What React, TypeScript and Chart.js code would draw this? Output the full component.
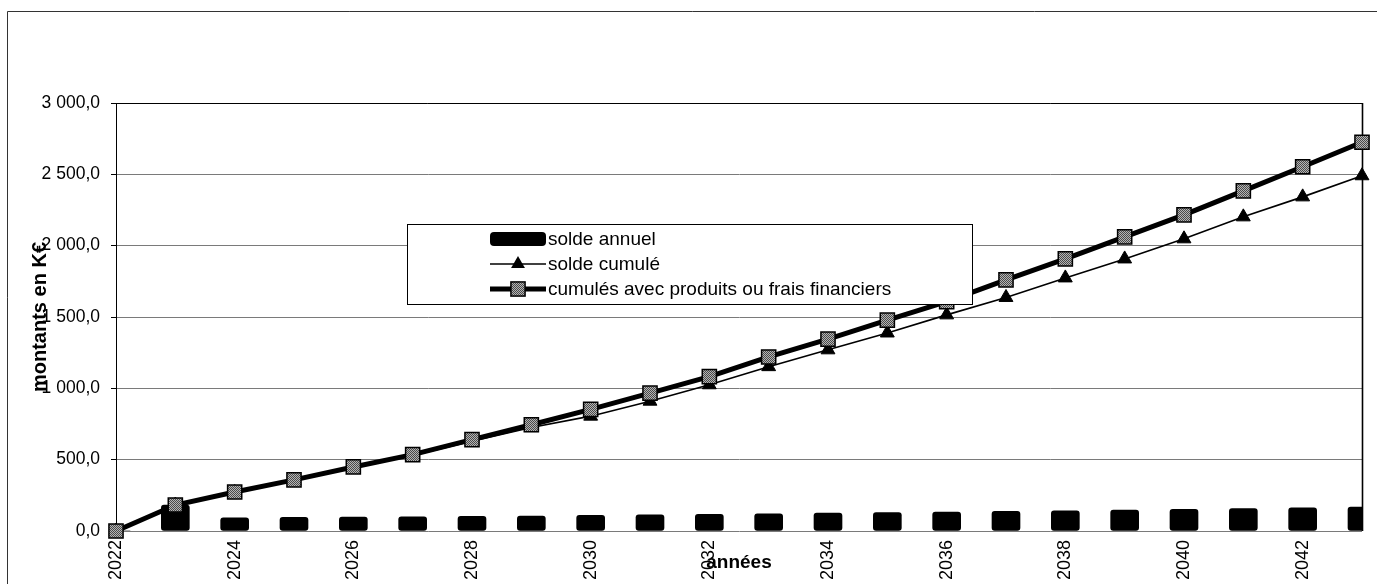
import React, { useEffect, useRef } from 'react';
import { Chart, registerables } from 'chart.js';

Chart.register(...registerables);

// ---- data ----
const years = [
  '2022', '2023', '2024', '2025', '2026', '2027', '2028', '2029', '2030', '2031', '2032',
  '2033', '2034', '2035', '2036', '2037', '2038', '2039', '2040', '2041', '2042', '2043',
];
const soldeAnnuel = [0, 182, 92, 95, 97, 99, 102, 105, 110, 114, 117, 121, 125, 129, 133, 137, 142, 147, 152, 157, 162, 168];
const soldeCumule = [0, 182, 270, 355, 445, 530, 630, 725, 805, 910, 1025, 1152, 1270, 1388, 1515, 1637, 1774, 1907, 2048, 2202, 2342, 2490];
const cumulesFinanciers = [0, 182, 273, 358, 449, 535, 640, 745, 853, 966, 1082, 1220, 1345, 1478, 1608, 1760, 1907, 2062, 2216, 2384, 2553, 2725];
const seriesLabels = ['solde annuel', 'solde cumulé', 'cumulés avec produits ou frais financiers'];
const yTicks = { min: 0, max: 3000, step: 500 };
const yAxisTitle = 'montants en K€';
const xAxisTitle = 'années';

const FONT = '"Liberation Sans", Arial, Helvetica, sans-serif';

function fmt(v: number): string {
  const s = Number(v).toFixed(1);
  const [i, d] = s.split('.');
  return i.replace(/\B(?=(\d{3})+(?!\d))/g, ' ') + ',' + d;
}

const framePlugin = {
  id: 'frame',
  beforeDraw(chart: any) {
    const ctx = chart.ctx;
    ctx.save();
    ctx.strokeStyle = '#333';
    ctx.lineWidth = 1;
    ctx.beginPath();
    ctx.moveTo(7.5, 584);
    ctx.lineTo(7.5, 11.5);
    ctx.lineTo(1377, 11.5);
    ctx.stroke();
    ctx.restore();
  },
  beforeDatasetsDraw(chart: any) {
    const { ctx, chartArea } = chart;
    ctx.save();
    ctx.strokeStyle = '#000';
    ctx.lineWidth = 1;
    ctx.beginPath();
    ctx.moveTo(chartArea.left, chartArea.top + 0.5);
    ctx.lineTo(chartArea.right, chartArea.top + 0.5);
    ctx.stroke();
    ctx.lineWidth = 1.6;
    ctx.beginPath();
    ctx.moveTo(chartArea.right + 0.5, chartArea.top);
    ctx.lineTo(chartArea.right + 0.5, chartArea.bottom);
    ctx.stroke();
    ctx.restore();
  },
};

const boxLegendPlugin = {
  id: 'boxLegend',
  afterDraw(chart: any) {
    const ctx = chart.ctx;
    const ds = chart.data.datasets;
    const bx = 407, by = 224, bw = 565, bh = 80;
    ctx.save();
    ctx.fillStyle = '#fff';
    ctx.fillRect(bx, by, bw, bh);
    ctx.strokeStyle = '#000';
    ctx.lineWidth = 1;
    ctx.strokeRect(bx + 0.5, by + 0.5, bw, bh);

    const sx0 = 490, sx1 = 546, sxm = 518, tx = 548;
    const rows = [239, 264, 289];

    // bar swatch
    ctx.fillStyle = ds[0].backgroundColor;
    ctx.beginPath();
    (ctx as any).roundRect(sx0, rows[0] - 7, sx1 - sx0, 14, 4);
    ctx.fill();

    // triangle line
    ctx.strokeStyle = '#000';
    ctx.lineWidth = ds[1].borderWidth;
    ctx.beginPath();
    ctx.moveTo(sx0, rows[1]);
    ctx.lineTo(sx1, rows[1]);
    ctx.stroke();
    const r = ds[1].pointRadius;
    ctx.fillStyle = '#000';
    ctx.beginPath();
    ctx.moveTo(sxm, rows[1] - r);
    ctx.lineTo(sxm + r * 0.866, rows[1] + r * 0.5);
    ctx.lineTo(sxm - r * 0.866, rows[1] + r * 0.5);
    ctx.closePath();
    ctx.fill();

    // square line
    ctx.lineWidth = ds[2].borderWidth;
    ctx.beginPath();
    ctx.moveTo(sx0, rows[2]);
    ctx.lineTo(sx1, rows[2]);
    ctx.stroke();
    const h = ds[2].pointRadius * Math.SQRT1_2;
    ctx.fillStyle = ds[2].pointBackgroundColor;
    ctx.fillRect(sxm - h, rows[2] - h, 2 * h, 2 * h);
    ctx.lineWidth = ds[2].pointBorderWidth;
    ctx.strokeRect(sxm - h, rows[2] - h, 2 * h, 2 * h);

    ctx.fillStyle = '#000';
    ctx.font = `19px ${FONT}`;
    ctx.textBaseline = 'middle';
    ctx.textAlign = 'left';
    rows.forEach((y, i) => ctx.fillText(ds[i].label, tx, y + 1));
    ctx.restore();
  },
};

export default function App() {
  const ref = useRef<HTMLCanvasElement>(null);

  useEffect(() => {
    const canvas = ref.current;
    if (!canvas) return;
    const pc = document.createElement('canvas');
    pc.width = 2;
    pc.height = 2;
    const pctx = pc.getContext('2d')!;
    pctx.fillStyle = '#b4b4b4';
    pctx.fillRect(0, 0, 2, 2);
    pctx.fillStyle = '#4a4a4a';
    pctx.fillRect(0, 0, 1, 1);
    pctx.fillRect(1, 1, 1, 1);
    const pattern = canvas.getContext('2d')!.createPattern(pc, 'repeat');

    const chart = new Chart(canvas, {
      type: 'bar',
      data: {
        labels: years,
        datasets: [
          {
            type: 'bar',
            label: seriesLabels[0],
            data: soldeAnnuel,
            backgroundColor: '#000',
            barThickness: 28,
            borderRadius: 3,
            borderSkipped: false,
            order: 3,
          } as any,
          {
            type: 'line',
            label: seriesLabels[1],
            data: soldeCumule,
            borderColor: '#000',
            borderWidth: 1.6,
            pointStyle: 'triangle',
            pointRadius: 8,
            pointBackgroundColor: '#000',
            pointBorderColor: '#000',
            pointBorderWidth: 1,
            tension: 0,
            clip: false,
            order: 2,
          } as any,
          {
            type: 'line',
            label: seriesLabels[2],
            data: cumulesFinanciers,
            borderColor: '#000',
            borderWidth: 5,
            pointStyle: 'rect',
            pointRadius: 10,
            pointBackgroundColor: pattern,
            pointBorderColor: '#000',
            pointBorderWidth: 1.5,
            tension: 0,
            clip: false,
            order: 1,
          } as any,
        ],
      },
      options: {
        responsive: true,
        maintainAspectRatio: false,
        animation: false,
        devicePixelRatio: 1,
        layout: { padding: { top: 103, right: 15, left: 0, bottom: 0 } },
        plugins: {
          legend: { display: false },
          tooltip: { enabled: false },
        },
        scales: {
          x: {
            offset: false,
            grid: { display: false, drawTicks: false },
            border: { display: false },
            ticks: {
              autoSkip: false,
              minRotation: 90,
              maxRotation: 90,
              padding: 9,
              color: '#000',
              font: { family: FONT, size: 18 },
              callback: (_v: any, i: number) => (i % 2 === 0 ? years[i] : ''),
            },
            title: {
              display: true,
              text: xAxisTitle,
              color: '#000',
              font: { family: FONT, size: 19, weight: 'bold' },
              padding: { top: 0, bottom: 10 },
            },
            afterFit: (s: any) => {
              s.height = 53;
              s.paddingLeft = 0;
              s.paddingRight = 0;
            },
          },
          y: {
            min: yTicks.min,
            max: yTicks.max,
            ticks: {
              stepSize: yTicks.step,
              padding: 11,
              color: '#000',
              font: { family: FONT, size: 17.5 },
              callback: (v: any) => fmt(v),
            },
            grid: { color: '#7a7a7a', lineWidth: 1, tickColor: '#000', tickLength: 5 },
            border: { display: true, color: '#000', width: 1 },
            title: {
              display: true,
              text: yAxisTitle,
              color: '#000',
              font: { family: FONT, size: 20, weight: 'bold' },
              padding: { top: 28, bottom: 0 },
            },
            afterFit: (s: any) => {
              s.width = 116;
            },
          },
        },
      } as any,
      plugins: [framePlugin, boxLegendPlugin],
    });
    return () => chart.destroy();
  }, []);

  return (
    <div style={{ position: 'fixed', left: 0, top: 0, width: 1377, height: 584, background: '#fff' }}>
      <canvas ref={ref} />
    </div>
  );
}
